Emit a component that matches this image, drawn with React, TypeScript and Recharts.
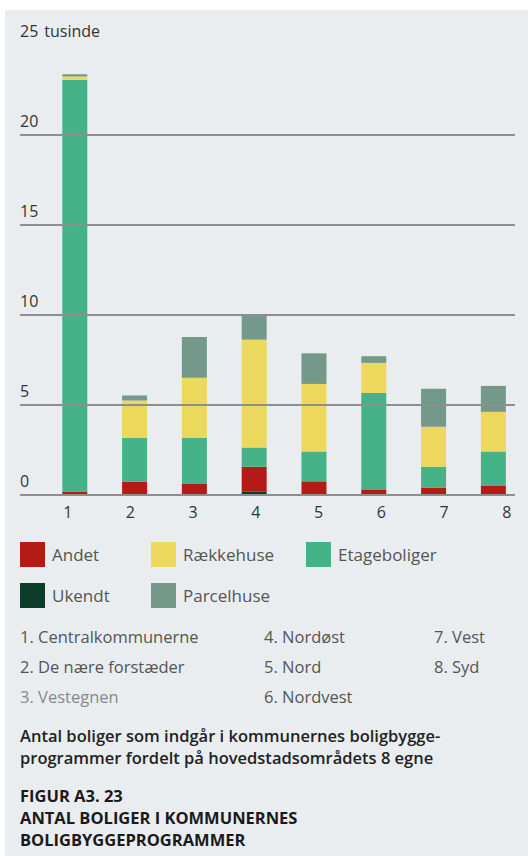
import { BarChart, Bar, XAxis, YAxis, ReferenceLine } from 'recharts';

// Regions 1-8 (hovedstadsområdets egne)
const regionNo = [1, 2, 3, 4, 5, 6, 7, 8];
const regionNames = [
  '1. Centralkommunerne',
  '2. De nære forstæder',
  '3. Vestegnen',
  '4. Nordøst',
  '5. Nord',
  '6. Nordvest',
  '7. Vest',
  '8. Syd',
];

// tusinde boliger, stacked bottom -> top
const ukendt = [0, 0, 0, 0.18, 0, 0, 0, 0];
const andet = [0.2, 0.74, 0.61, 1.39, 0.76, 0.31, 0.41, 0.5];
const etageboliger = [22.87, 2.44, 2.57, 1.07, 1.66, 5.36, 1.16, 1.92];
const raekkehuse = [0.18, 2.07, 3.34, 5.99, 3.75, 1.67, 2.22, 2.2];
const parcelhuse = [0.13, 0.28, 2.26, 1.37, 1.7, 0.37, 2.11, 1.44];

const yTicks = [0, 5, 10, 15, 20, 25];
const gridValues = [0, 5, 10, 15, 20];

const SERIES = [
  { key: 'ukendt', name: 'Ukendt', color: '#0c3d2b' },
  { key: 'andet', name: 'Andet', color: '#b41b17' },
  { key: 'etageboliger', name: 'Etageboliger', color: '#45b387' },
  { key: 'raekkehuse', name: 'Rækkehuse', color: '#ecd85c' },
  { key: 'parcelhuse', name: 'Parcelhuse', color: '#74998a' },
];

const data = regionNo.map((x, i) => ({
  x,
  ukendt: ukendt[i],
  andet: andet[i],
  etageboliger: etageboliger[i],
  raekkehuse: raekkehuse[i],
  parcelhuse: parcelhuse[i],
}));

const FONT = '"Open Sans", sans-serif';

function YTick({ y, payload }: any) {
  const label = payload.value === 25 ? (
    <>
      <tspan>25</tspan>
      <tspan dx={6}>tusinde</tspan>
    </>
  ) : (
    String(payload.value)
  );
  return (
    <text x={20} y={y - 12} dominantBaseline="middle" fill="#333" fontSize={16} fontFamily={FONT}>
      {label}
    </text>
  );
}

function LegendItem({ k, left, top }: { k: string; left: number; top: number }) {
  const s = SERIES.find((d) => d.key === k)!;
  return (
    <div style={{ position: 'absolute', left, top, display: 'flex', alignItems: 'center', height: 25 }}>
      <div style={{ width: 25, height: 25, background: s.color }} />
      <span style={{ marginLeft: 7, fontSize: 17, color: '#555', fontFamily: FONT, whiteSpace: 'nowrap' }}>
        {s.name}
      </span>
    </div>
  );
}

export default function App() {
  const cols = [20, 264, 434];
  return (
    <div style={{ position: 'absolute', left: 0, top: 0, width: 528, height: 856, background: '#fff', fontFamily: FONT }}>
      <div style={{ position: 'absolute', left: 5, top: 10, width: 523, height: 846, background: '#e9edf0' }} />
      <div style={{ position: 'absolute', left: 0, top: 0 }}>
        <BarChart width={528} height={540} data={data} margin={{ top: 45, right: 13, bottom: 15, left: 0 }}>
          <YAxis
            type="number"
            domain={[0, 25]}
            ticks={yTicks}
            width={20}
            axisLine={false}
            tickLine={false}
            tick={<YTick />}
          />
          <XAxis
            xAxisId="bar"
            orientation="top"
            dataKey="x"
            type="number"
            domain={[0.077, 8.355]}
            hide
            allowDataOverflow
          />
          <XAxis
            xAxisId="lbl"
            dataKey="x"
            type="number"
            domain={[0.239, 8.132]}
            ticks={regionNo}
            height={30}
            axisLine={false}
            tickLine={false}
            tickSize={0}
            tickMargin={12}
            allowDataOverflow
            tick={{ fill: '#333', fontSize: 16, fontFamily: FONT }}
          />
          {gridValues.map((v) => (
            <ReferenceLine key={v} y={v} xAxisId="bar" stroke="#8e8e8e" strokeWidth={2} />
          ))}
          {SERIES.map((s) => (
            <Bar
              key={s.key}
              xAxisId="bar"
              dataKey={s.key}
              stackId="a"
              fill={s.color}
              barSize={25}
              isAnimationActive={false}
            />
          ))}
        </BarChart>
      </div>

      <LegendItem k="andet" left={20} top={542} />
      <LegendItem k="raekkehuse" left={151} top={542} />
      <LegendItem k="etageboliger" left={306} top={542} />
      <LegendItem k="ukendt" left={20} top={583} />
      <LegendItem k="parcelhuse" left={151} top={583} />

      {regionNames.map((n, i) => (
        <div
          key={n}
          style={{
            position: 'absolute',
            left: cols[Math.floor(i / 3)],
            top: 626 + (i % 3) * 30,
            height: 22,
            lineHeight: '22px',
            fontSize: 16.5,
            color: i === 2 ? '#888' : '#555',
            whiteSpace: 'nowrap',
          }}
        >
          {n}
        </div>
      ))}

      <div style={{ position: 'absolute', left: 20, top: 725, width: 508, fontSize: 16.5, lineHeight: '22px', fontWeight: 600, color: '#222', whiteSpace: 'nowrap' }}>
        Antal boliger som indgår i kommunernes boligbygge-
        <br />
        programmer fordelt på hovedstadsområdets 8 egne
      </div>

      <div style={{ position: 'absolute', left: 20, top: 785, width: 500, fontSize: 16.5, lineHeight: '22px', fontWeight: 700, color: '#1a1a1a' }}>
        FIGUR A3. 23
        <br />
        ANTAL BOLIGER I KOMMUNERNES
        <br />
        BOLIGBYGGEPROGRAMMER
      </div>
    </div>
  );
}
